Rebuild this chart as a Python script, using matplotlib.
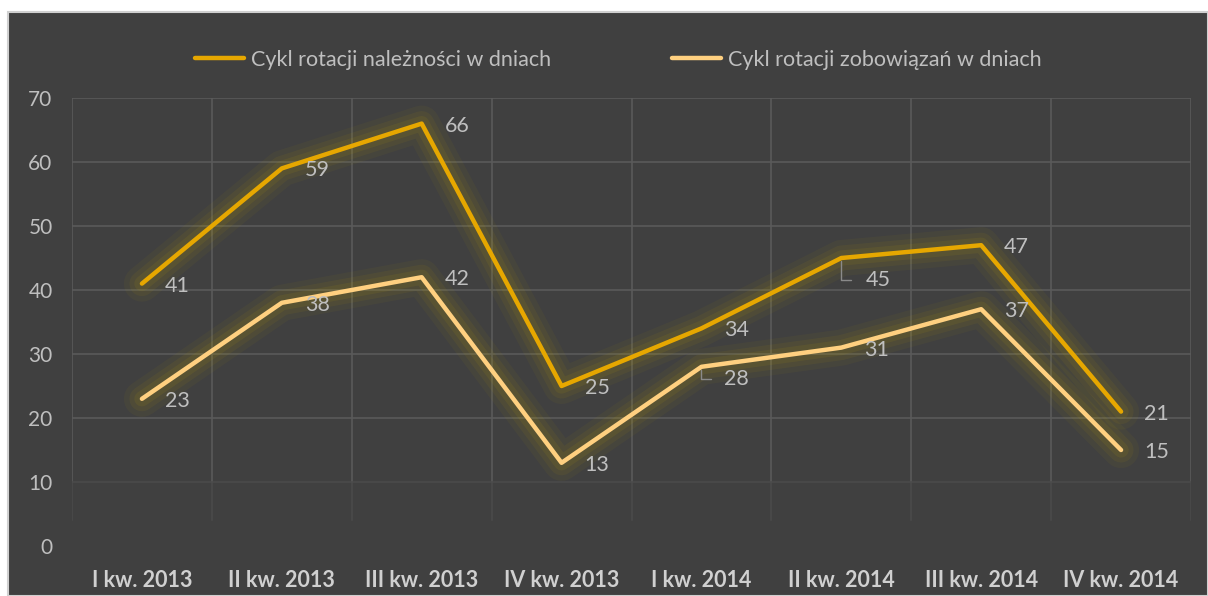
import numpy as np
import matplotlib.pyplot as plt
from matplotlib.patches import Rectangle

plt.rcParams['font.family'] = ['Lato', 'DejaVu Sans']

quarters = ['I kw. 2013', 'II kw. 2013', 'III kw. 2013', 'IV kw. 2013',
            'I kw. 2014', 'II kw. 2014', 'III kw. 2014', 'IV kw. 2014']
naleznosci = [41, 59, 66, 25, 34, 45, 47, 21]
zobowiazania = [23, 38, 42, 13, 28, 31, 37, 15]
name_nal = 'Cykl rotacji należności w dniach'
name_zob = 'Cykl rotacji zobowiązań w dniach'

bg = '#404040'
grid_c = '#5a5a5a'
txt_c = '#bfbfbf'
c_nal = '#e6a700'
c_zob = '#ffd080'

fig = plt.figure(figsize=(12.08, 5.96), dpi=100)
fig.patch.set_facecolor('white')
fig.patches.append(Rectangle((8/1208, 0), 1 - 8/1208, 1 - 12/596, transform=fig.transFigure,
                             facecolor=bg, edgecolor='#d0d0d0', lw=1.5, zorder=-10))

ax = fig.add_axes([72/1208, 50/596, 1119/1208, 448/596])
ax.patch.set_alpha(0)
x = np.arange(len(quarters))
ax.set_xlim(-0.5, 7.5)
ax.set_ylim(0, 70)

# grid (fades out at the bottom)
for yv in range(20, 80, 10):
    ax.axhline(yv, color=grid_c, lw=1.2, zorder=1)
ax.axhline(10, color='#4a4a4a', lw=1.2, zorder=1)
for xv in np.arange(-0.5, 8, 1):
    ax.plot([xv, xv], [10, 70], color=grid_c, lw=1.2, zorder=1)
    ax.plot([xv, xv], [4, 10], color='#4a4a4a', lw=1.2, zorder=1)

# glow
for s in [naleznosci, zobowiazania]:
    for w, a in [(26, 0.05), (18, 0.07), (11, 0.09)]:
        ax.plot(x, s, color='#c8a800', lw=w, alpha=a, solid_capstyle='round',
                solid_joinstyle='round', zorder=2)

ax.plot(x, naleznosci, color=c_nal, lw=3.2, label=name_nal, solid_capstyle='round', zorder=4)
ax.plot(x, zobowiazania, color=c_zob, lw=3.2, label=name_zob, solid_capstyle='round', zorder=4)

lab_fs = 15.5
leader = dict(arrowstyle='-', color='#8a8a8a', lw=1,
              connectionstyle='angle,angleA=0,angleB=90,rad=0', shrinkA=8, shrinkB=2)
for i, v in enumerate(naleznosci):
    if i == 5:
        ax.annotate(str(v), (x[i], v), xytext=(24, -22), textcoords='offset pixels',
                    ha='left', va='center', color=txt_c, fontsize=lab_fs, zorder=5,
                    arrowprops=leader)
    else:
        ax.annotate(str(v), (x[i], v), xytext=(23, -2), textcoords='offset pixels',
                    ha='left', va='center', color=txt_c, fontsize=lab_fs, zorder=5)
for i, v in enumerate(zobowiazania):
    if i == 4:
        ax.annotate(str(v), (x[i], v), xytext=(23, -12), textcoords='offset pixels',
                    ha='left', va='center', color=txt_c, fontsize=lab_fs, zorder=5,
                    arrowprops=leader)
    else:
        ax.annotate(str(v), (x[i], v), xytext=(23, -2), textcoords='offset pixels',
                    ha='left', va='center', color=txt_c, fontsize=lab_fs, zorder=5)

ax.set_xticks(x)
ax.set_xticklabels(quarters, fontweight='bold', fontsize=15.5, color='#d0d0d0')
ax.set_yticks(range(0, 80, 10))
ax.tick_params(axis='y', length=0, pad=14, labelsize=15, labelcolor=txt_c)
ax.tick_params(axis='x', length=0, pad=17)
for sp in ax.spines.values():
    sp.set_visible(False)

fig.legend(loc='center', bbox_to_anchor=(618/1208, 1 - 60/596), ncol=2, frameon=False,
           fontsize=15.5, labelcolor=txt_c, handlelength=2.3, handletextpad=0.3,
           columnspacing=5.6)

fig.savefig('out.png', dpi=100, facecolor=fig.get_facecolor())
